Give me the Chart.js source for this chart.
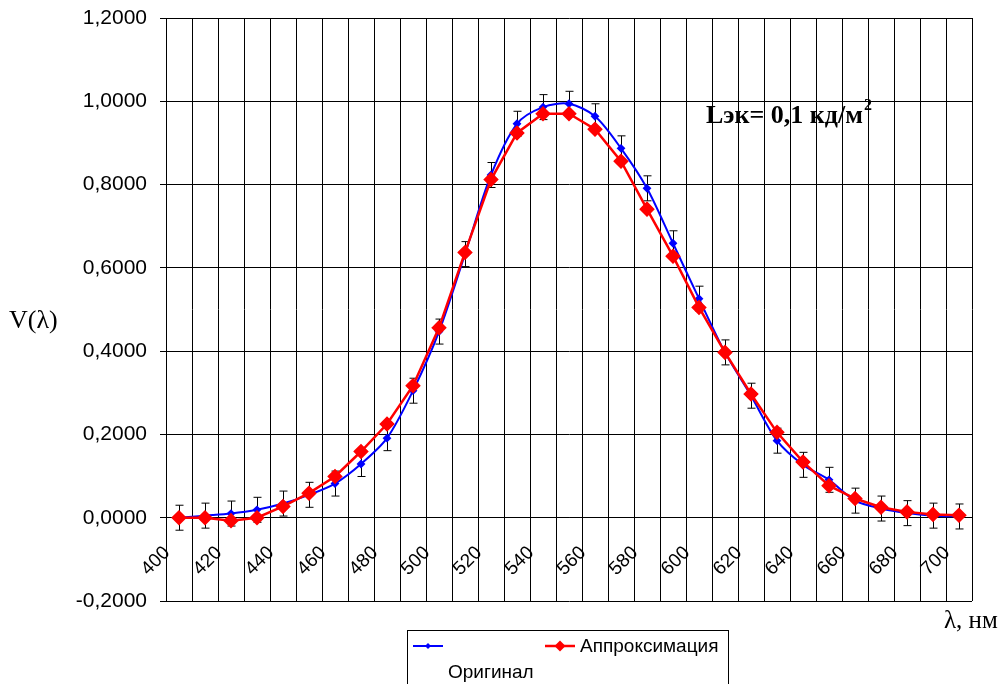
<!DOCTYPE html>
<html>
<head>
<meta charset="utf-8">
<script src="https://cdn.jsdelivr.net/npm/chart.js@4/dist/chart.umd.min.js"></script>
<style>
  html, body { margin: 0; padding: 0; background: #fff; }
  #wrap { width: 1006px; height: 684px; position: relative; }
</style>
</head>
<body>
<div id="wrap"><canvas id="c" width="1006" height="684"></canvas></div>
<script>
// Wavelengths, nm
const wavelengths = ['400','410','420','430','440','450','460','470','480','490',
                     '500','510','520','530','540','550','560','570','580','590',
                     '600','610','620','630','640','650','660','670','680','690','700'];

// Measured relative spectral sensitivity V(λ)
const original = [0.000, 0.005, 0.010, 0.019, 0.034, 0.055, 0.082, 0.129, 0.191, 0.305,
                  0.447, 0.633, 0.823, 0.946, 0.986, 0.994, 0.964, 0.887, 0.791, 0.659,
                  0.526, 0.397, 0.293, 0.185, 0.127, 0.091, 0.041, 0.022, 0.011, 0.005, 0.003];

// Approximating curve
const approximation = [0.000, 0.000, -0.007, 0.000, 0.027, 0.059, 0.099, 0.159, 0.225, 0.317,
                       0.456, 0.637, 0.812, 0.924, 0.970, 0.970, 0.933, 0.856, 0.741, 0.628,
                       0.505, 0.397, 0.297, 0.205, 0.134, 0.077, 0.046, 0.025, 0.014, 0.008, 0.006];

// Error margins of the measured curve
const originalError = [0.03, 0.03, 0.03, 0.03, 0.03, 0.03, 0.03, 0.03, 0.03, 0.03,
                       0.03, 0.03, 0.03, 0.03, 0.03, 0.03, 0.03, 0.03, 0.03, 0.03,
                       0.03, 0.03, 0.03, 0.03, 0.03, 0.03, 0.03, 0.03, 0.03, 0.03, 0.03];

// Y axis range and step
const yMin = -0.2, yMax = 1.2, yStep = 0.2;

const SANS = '"Liberation Sans", Arial, sans-serif';
const SERIF = '"Liberation Serif", "Times New Roman", serif';

// Error bars on the measured series
const errorBars = {
  id: 'errorBars',
  beforeDatasetsDraw(chart) {
    const { ctx, scales: { x, y } } = chart;
    ctx.save();
    ctx.strokeStyle = '#000';
    ctx.lineWidth = 1;
    original.forEach((v, i) => {
      const px = Math.round(x.getPixelForValue(i)) + 0.5;
      const top = y.getPixelForValue(v + originalError[i]);
      const bot = y.getPixelForValue(v - originalError[i]);
      ctx.beginPath();
      ctx.moveTo(px, top); ctx.lineTo(px, bot);
      ctx.moveTo(px - 4, top); ctx.lineTo(px + 4, top);
      ctx.moveTo(px - 4, bot); ctx.lineTo(px + 4, bot);
      ctx.stroke();
    });
    ctx.restore();
  }
};

// Axis titles, annotation and legend
const decorations = {
  id: 'decorations',
  afterDraw(chart) {
    const ctx = chart.ctx;
    ctx.save();
    ctx.fillStyle = '#000';
    ctx.textBaseline = 'middle';

    ctx.font = '26px ' + SERIF;
    ctx.textAlign = 'left';
    ctx.fillText('V(λ)', 9, 321);
    ctx.font = '25px ' + SERIF;
    ctx.fillText('λ, нм', 944, 621);

    ctx.font = 'bold 26px ' + SERIF;
    ctx.fillText('Lэк= 0,1 кд/м', 706, 116);
    const w = ctx.measureText('Lэк= 0,1 кд/м').width;
    ctx.font = 'bold 16px ' + SERIF;
    ctx.fillText('2', 706 + w + 1, 106);

    // legend
    ctx.strokeStyle = '#000';
    ctx.lineWidth = 1;
    ctx.fillStyle = '#fff';
    ctx.fillRect(407.5, 630.5, 321, 60);
    ctx.strokeRect(407.5, 630.5, 321, 60);

    const marker = (cx, cy, r, color, lw) => {
      ctx.strokeStyle = color;
      ctx.fillStyle = color;
      ctx.lineWidth = lw;
      ctx.beginPath();
      ctx.moveTo(cx - 15, cy); ctx.lineTo(cx + 15, cy);
      ctx.stroke();
      ctx.beginPath();
      ctx.moveTo(cx, cy - r); ctx.lineTo(cx + r, cy);
      ctx.lineTo(cx, cy + r); ctx.lineTo(cx - r, cy);
      ctx.closePath();
      ctx.fill();
    };
    marker(428, 646, 3, '#0000ff', 2);
    marker(560, 646, 5.5, '#ff0000', 2.5);

    ctx.fillStyle = '#000';
    ctx.font = '19px ' + SANS;
    ctx.fillText('Аппроксимация', 580, 647);
    ctx.fillText('Оригинал', 448, 673);
    ctx.restore();
  }
};

new Chart(document.getElementById('c'), {
  type: 'line',
  data: {
    labels: wavelengths,
    datasets: [
      {
        label: 'Оригинал',
        data: original,
        borderColor: '#0000ff',
        backgroundColor: '#0000ff',
        borderWidth: 2,
        tension: 0.3,
        pointStyle: 'rectRot',
        pointRadius: 3,
        order: 2
      },
      {
        label: 'Аппроксимация',
        data: approximation,
        borderColor: '#ff0000',
        backgroundColor: '#ff0000',
        borderWidth: 2.5,
        tension: 0,
        pointStyle: 'rectRot',
        pointRadius: 6,
        order: 1
      }
    ]
  },
  options: {
    responsive: false,
    animation: false,
    layout: { padding: { left: 0, top: 18, right: 34, bottom: 83 } },
    plugins: { legend: { display: false }, tooltip: { enabled: false } },
    scales: {
      x: {
        type: 'category',
        position: { y: 0 },
        offset: true,
        afterFit: (s) => { s.paddingTop = 0; s.paddingBottom = 0; s.paddingLeft = 0; s.paddingRight = 0; },
        grid: { offset: true, color: '#000', lineWidth: 1, tickLength: 6 },
        border: { color: '#000', width: 1 },
        ticks: {
          autoSkip: false,
          minRotation: 45,
          maxRotation: 45,
          padding: 18,
          labelOffset: -12,
          color: '#000',
          font: { family: SANS, size: 19 },
          callback: (val, i) => (i % 2 === 0 ? wavelengths[i] : '')
        }
      },
      y: {
        min: yMin,
        max: yMax,
        afterFit: (s) => { s.width = 166; s.paddingTop = 0; s.paddingBottom = 0; },
        grid: { color: '#000', lineWidth: 1, tickLength: 6 },
        border: { color: '#000', width: 1 },
        ticks: {
          stepSize: yStep,
          padding: 13,
          color: '#000',
          font: { family: SANS, size: 21 },
          callback: (v) => v.toFixed(4).replace('.', ',').replace('-0,0000', '0,0000')
        }
      }
    }
  },
  plugins: [errorBars, decorations]
});
</script>
</body>
</html>
